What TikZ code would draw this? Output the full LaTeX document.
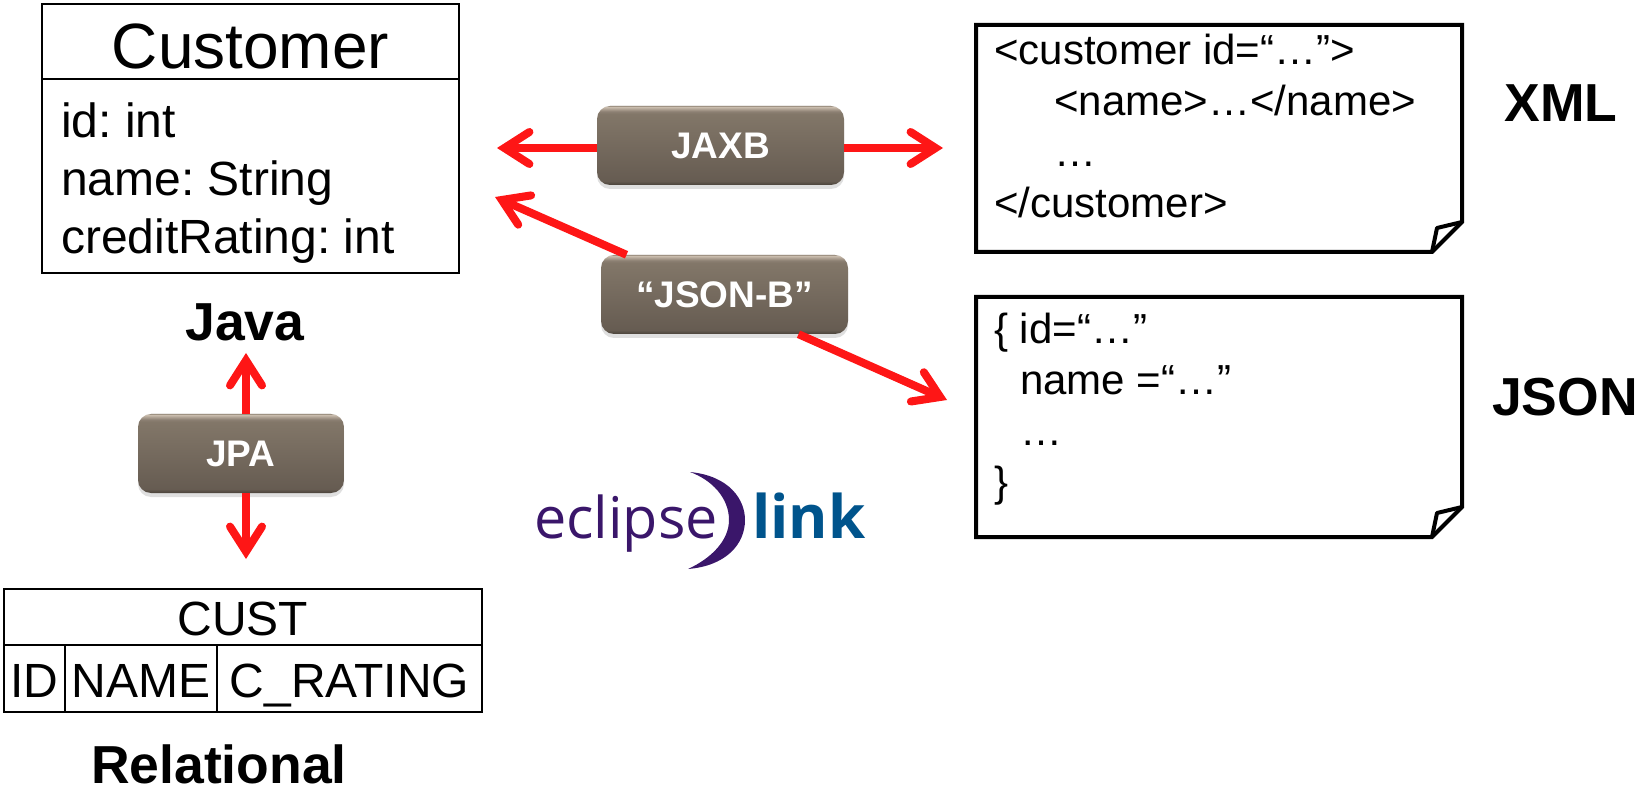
\documentclass[tikz,border=0pt]{standalone}
\usepackage{fontspec}
\setmainfont{Liberation Sans}
\newfontfamily\logofont{Open Sans}
\usetikzlibrary{calc,positioning,arrows.meta,shadows}
\frenchspacing

\definecolor{linkred}{RGB}{254,22,22}
\definecolor{logopurple}{RGB}{58,22,106}
\definecolor{logoblue}{RGB}{0,84,140}
\pgfdeclareverticalshading{toolshade}{100bp}{
  rgb(0bp)=(0.31,0.28,0.25);
  rgb(25bp)=(0.29,0.26,0.23);
  rgb(27.5bp)=(0.40,0.36,0.32);
  rgb(70bp)=(0.51,0.465,0.41);
  rgb(71.5bp)=(0.55,0.50,0.45);
  rgb(74.5bp)=(0.80,0.75,0.69);
  rgb(75bp)=(0.62,0.57,0.51);
  rgb(100bp)=(0.62,0.57,0.51)}
\tikzset{
  sized/.style={font=\fontsize{#1}{#1}\selectfont},
  cell/.style={draw,line width=2.5pt,outer sep=0pt,inner sep=0pt,sized=48,text height=40pt,text depth=3pt},
  docbox/.style={outer sep=0pt,inner sep=0pt,minimum width=486pt},
  doctext/.style={anchor=north west,align=left,inner sep=0pt,font=\fontsize{42}{51}\selectfont},
  heading/.style={font=\fontsize{53.5}{53.5}\selectfont\bfseries},
  tool/.style={rounded corners=13pt,shading=toolshade,text=white,inner sep=0pt,
    minimum height=79pt,font=\fontsize{37}{37}\selectfont\bfseries,
    drop shadow={opacity=0.25,shadow xshift=0pt,shadow yshift=-4pt}},
  link/.style={line width=8pt,linkred,
    -{Straight Barb[length=25pt,width=32pt,line width=8pt,line cap=round,line join=miter]}},
}
\newcommand{\docoutline}[1]{
  \draw[line width=4pt,line join=miter] (#1.south east) ++(0,-30) coordinate (#1foldr)
    -- (#1.north east) -- (#1.north west) -- (#1.south west) -- ($(#1.south east)+(-30,0)$) coordinate (#1foldb) -- cycle;
  \draw[line width=4pt,line join=round] (#1foldb) -- ($(#1.south east)+(-25,-24)$) -- (#1foldr);
}

\begin{document}
\begin{tikzpicture}[x=1pt,y=-1pt,node distance=0pt]
    \useasboundingbox (0,0) rectangle (1647,791);

    \coordinate (jaxbleft) at (497,148);
    \coordinate (jaxbright) at (943,148);
    \coordinate (jsonleft) at (495,197);
    \coordinate (jsonright) at (947,400);
    \coordinate (jpaup) at (246,353);
    \coordinate (jpadown) at (246,559);

    \node [tool,minimum width=247pt] (jaxb) at (720.5,145.5) {JAXB};
    \node [tool,minimum width=247pt] (jsonb) at (724.5,294.5) {“JSON-B”};
    \node [tool,minimum width=206pt] (jpa) at (241,453.5) {JPA};
    \path [link]
    (jaxbleft -| jaxb.west) edge (jaxbleft)
    (jaxbright -| jaxb.east) edge (jaxbright)
    ($(jsonb.north)+(-98,0)$) edge (jsonleft)
    ($(jsonb.south)+(74,0)$) edge (jsonright)
    (jpaup |- jpa.north) edge (jpaup)
    (jpadown |- jpa.south) edge (jpadown)
    ;

    % class box
    \node [draw,line width=2.5pt,outer sep=0pt,minimum width=417pt,minimum height=75pt,sized=64,text height=55pt,text depth=1pt] (customer) at (250.5,41.5) {Customer};
    \node [draw,line width=2.5pt,outer sep=0pt,minimum width=417pt,minimum height=194pt,below=of customer] (fields) {};
    \node [anchor=north west,inner sep=0pt,align=left,font=\fontsize{48}{58}\selectfont] (fieldtext) at (61,103) {id: int\\name: String\\creditRating: int};
    \node [heading] (java) at (245,322) {Java};

    % table
    \node [cell,minimum width=478pt,minimum height=56pt,text height=38pt,text depth=2pt] (cust) at (243,617) {CUST};
    \node [cell,minimum width=61pt,minimum height=67pt,anchor=north west] (colid) at (cust.south west) {ID};
    \node [cell,minimum width=152pt,minimum height=67pt,right=of colid] (colname) {NAME};
    \node [cell,minimum width=265pt,minimum height=67pt,right=of colname] (colrating) {C\_RATING};
    \node [heading,anchor=base] (relational) at (219,783) {Relational};

    % documents
    \node [docbox,minimum height=227pt] (xmldoc) at (1219,138.5) {};
    \docoutline{xmldoc}
    \node [doctext] (xmltext) at (994,34) {<customer id=“…”>\\\hspace*{60pt}<name>…</name>\\\hspace*{60pt}…\\</customer>};
    \node [heading] (xml) at (1561,103) {XML};

    \node [docbox,minimum height=240pt] (jsondoc) at (1219,417) {};
    \docoutline{jsondoc}
    \node [doctext] (jsontext) at (994,313) {\{ id=“…”\\\hspace*{26pt}name =“…”\\\hspace*{26pt}…\\\}};
    \node [heading] (json) at (1565,397) {JSON};

    % logo
    \node [anchor=base west,inner sep=0pt,text=logopurple,font=\fontsize{57.5}{57.5}\logofont] (eclipse) at (534,538) {eclipse};
    \node [anchor=base west,inner sep=0pt,text=logoblue,font=\fontsize{60}{60}\logofont\bfseries] (linkword) at (752,538) {link};
    \fill [logopurple] (690,472) .. controls (730,476) and (745,500) .. (745,520)
      .. controls (745,545) and (725,566) .. (688,569)
      .. controls (712,558) and (729,540) .. (729,520)
      .. controls (729,498) and (712,480) .. (690,472) -- cycle;
  \end{tikzpicture}
\end{document}
